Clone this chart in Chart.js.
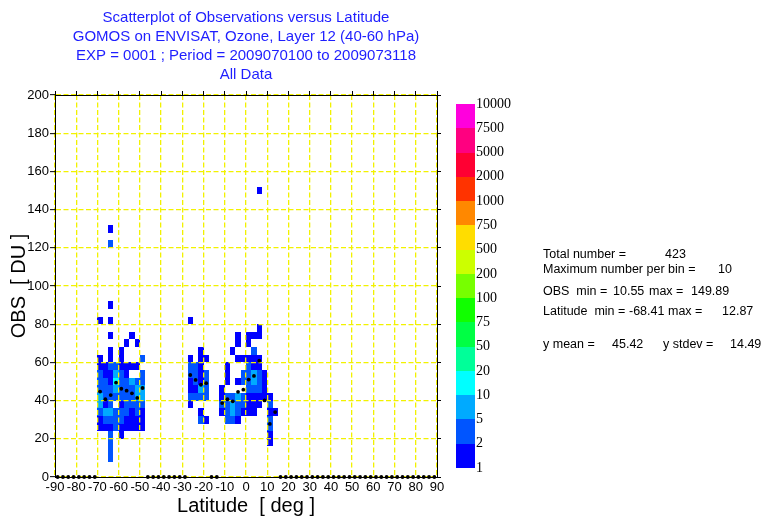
<!DOCTYPE html>
<html>
<head>
<meta charset="utf-8">
<script src="https://cdn.jsdelivr.net/npm/chart.js@4.4.1/dist/chart.umd.min.js"></script>
<style>
  html, body { margin: 0; padding: 0; background: #fff; }
</style>
</head>
<body>
<canvas id="scatter-chart" width="765" height="518"></canvas>
<script>
const titleLines = [
    'Scatterplot of Observations versus Latitude',
    'GOMOS on ENVISAT, Ozone, Layer 12 (40-60 hPa)',
    'EXP = 0001 ; Period = 2009070100 to 2009073118',
    'All Data',
];

// bins are 2.5 deg of latitude by 4 DU
const latStep = 2.5;
const obsStep = 4;

// [latitude bin start, OBS bin start, number of observations]
const binCells = [
    // southern mid latitudes
    [-65, 128, 1], [-65, 120, 2], [-65, 88, 1], [-70, 80, 1], [-65, 80, 1],
    [-65, 72, 1], [-55, 72, 1], [-57.5, 68, 1], [-52.5, 68, 1],
    [-65, 64, 1], [-60, 64, 1],
    [-70, 60, 1], [-65, 60, 1], [-60, 60, 1], [-50, 60, 2],
    [-70, 56, 1], [-67.5, 56, 1], [-65, 56, 2], [-62.5, 56, 3], [-60, 56, 1], [-57.5, 56, 1], [-55, 56, 1], [-52.5, 56, 1],
    [-70, 52, 2], [-67.5, 52, 1], [-65, 52, 1], [-62.5, 52, 6], [-60, 52, 2], [-57.5, 52, 1], [-50, 52, 2],
    [-70, 48, 2], [-67.5, 48, 2], [-65, 48, 1], [-62.5, 48, 10], [-60, 48, 3], [-57.5, 48, 2], [-55, 48, 5], [-52.5, 48, 2], [-50, 48, 2],
    [-70, 44, 3], [-67.5, 44, 2], [-65, 44, 3], [-62.5, 44, 6], [-60, 44, 3], [-57.5, 44, 2], [-55, 44, 2], [-52.5, 44, 5], [-50, 44, 5],
    [-70, 40, 5], [-67.5, 40, 3], [-65, 40, 2], [-62.5, 40, 3], [-60, 40, 2], [-57.5, 40, 3], [-55, 40, 2], [-52.5, 40, 5], [-50, 40, 5],
    [-70, 36, 5], [-67.5, 36, 1], [-65, 36, 2], [-60, 36, 1], [-57.5, 36, 2], [-55, 36, 2], [-52.5, 36, 2], [-50, 36, 2],
    [-70, 32, 2], [-67.5, 32, 5], [-65, 32, 5], [-62.5, 32, 2], [-60, 32, 2], [-57.5, 32, 2], [-55, 32, 1], [-52.5, 32, 2], [-50, 32, 1],
    [-70, 28, 1], [-67.5, 28, 2], [-65, 28, 2], [-62.5, 28, 2], [-60, 28, 2], [-57.5, 28, 1], [-55, 28, 1], [-52.5, 28, 1], [-50, 28, 1],
    [-70, 24, 1], [-67.5, 24, 1], [-65, 24, 1], [-62.5, 24, 2], [-60, 24, 1], [-57.5, 24, 1], [-55, 24, 1], [-52.5, 24, 1], [-50, 24, 1],
    [-65, 20, 2], [-60, 20, 1], [-65, 16, 2], [-65, 12, 2], [-65, 8, 2],
    // southern subtropics
    [-27.5, 80, 1], [-22.5, 64, 1],
    [-27.5, 60, 1], [-22.5, 60, 1], [-20, 60, 1],
    [-27.5, 56, 2], [-25, 56, 2], [-22.5, 56, 1],
    [-27.5, 52, 2], [-25, 52, 2], [-22.5, 52, 1], [-20, 52, 2],
    [-27.5, 48, 1], [-25, 48, 2], [-22.5, 48, 1], [-20, 48, 2],
    [-27.5, 44, 1], [-25, 44, 1], [-22.5, 44, 5], [-20, 44, 2],
    [-27.5, 40, 2], [-25, 40, 2], [-22.5, 40, 2], [-20, 40, 2],
    [-27.5, 36, 1], [-22.5, 32, 1], [-22.5, 28, 2], [-20, 28, 1],
    // tropics
    [5, 148, 1],
    [5, 76, 1], [-5, 72, 1], [0, 72, 1], [2.5, 72, 1], [5, 72, 1],
    [-5, 68, 1], [0, 68, 1], [-7.5, 64, 1], [2.5, 64, 2],
    [-5, 60, 1], [-2.5, 60, 1], [0, 60, 1], [2.5, 60, 1], [5, 60, 1],
    [-10, 56, 1], [0, 56, 2], [2.5, 56, 1], [5, 56, 1],
    [-10, 52, 1], [-2.5, 52, 2], [0, 52, 2], [2.5, 52, 5], [5, 52, 2], [7.5, 52, 1],
    [-10, 48, 1], [-5, 48, 1], [-2.5, 48, 2], [0, 48, 2], [2.5, 48, 6], [5, 48, 2], [7.5, 48, 1],
    [-12.5, 44, 1], [0, 44, 2], [2.5, 44, 2], [5, 44, 2], [7.5, 44, 1],
    [-12.5, 40, 1], [-10, 40, 2], [-7.5, 40, 2], [-5, 40, 6], [-2.5, 40, 2], [0, 40, 1], [2.5, 40, 1], [5, 40, 1], [7.5, 40, 1], [10, 40, 1],
    [-12.5, 36, 2], [-10, 36, 2], [-7.5, 36, 5], [-5, 36, 2], [-2.5, 36, 2], [0, 36, 1], [2.5, 36, 1], [5, 36, 1], [10, 36, 2],
    [-12.5, 32, 1], [-10, 32, 2], [-7.5, 32, 5], [-5, 32, 2], [-2.5, 32, 1], [0, 32, 1], [2.5, 32, 1], [10, 32, 1], [12.5, 32, 1],
    [-10, 28, 2], [-7.5, 28, 2], [-5, 28, 1], [10, 28, 2],
    [10, 24, 2], [10, 20, 1], [10, 16, 1],
];

// mean OBS of each 2.5 deg latitude band (0 where the band is empty)
const bandLat = [
    -88.75, -86.25, -83.75, -81.25, -78.75, -76.25, -73.75, -71.25,
    -68.75, -66.25, -63.75, -61.25, -58.75, -56.25, -53.75, -51.25, -48.75,
    -46.25, -43.75, -41.25, -38.75, -36.25, -33.75, -31.25, -28.75,
    -26.25, -23.75, -21.25, -18.75,
    -16.25, -13.75,
    -11.25, -8.75, -6.25, -3.75, -1.25, 1.25, 3.75, 6.25, 8.75, 11.25, 13.75,
    16.25, 18.75, 21.25, 23.75, 26.25, 28.75, 31.25, 33.75, 36.25, 38.75,
    41.25, 43.75, 46.25, 48.75, 51.25, 53.75, 56.25, 58.75, 61.25, 63.75,
    66.25, 68.75, 71.25, 73.75, 76.25, 78.75, 81.25, 83.75, 86.25, 88.75,
];
const bandMeanObs = [
    0, 0, 0, 0, 0, 0, 0, 0,
    44.7, 40.7, 42.9, 49.4, 46.2, 45.2, 43.8, 41.4, 46.6,
    0, 0, 0, 0, 0, 0, 0, 0,
    53.4, 50.8, 48.3, 49.1,
    0, 0,
    38.7, 40.7, 39.6, 44.6, 45.7, 51.0, 52.9, 60.9, 40.1, 27.8, 34.0,
    0, 0, 0, 0, 0, 0, 0, 0, 0, 0,
    0, 0, 0, 0, 0, 0, 0, 0, 0, 0,
    0, 0, 0, 0, 0, 0, 0, 0, 0, 0,
];

// colour scale: lower bound of each class and its colour
const colorLevels = [1, 2, 5, 10, 20, 50, 75, 100, 200, 500, 750, 1000, 2000, 5000, 7500, 10000];
const levelColors = [
    '#0000ff', '#0055ff', '#00aaff', '#00ffff', '#00ff99', '#00ff44', '#11ff00', '#77ff00',
    '#ccff00', '#ffdd00', '#ff8800', '#ff3300', '#ff0033', '#ff0080', '#ff00dd',
];

// summary block: [text, x]
const statLines = [
    [['Total number =', 543], ['423', 665]],
    [['Maximum number per bin =', 543], ['10', 718]],
    [['OBS  min =', 543], ['10.55', 613], ['max =', 649], ['149.89', 691]],
    [['Latitude  min =', 543], ['-68.41', 629], ['max =', 668], ['12.87', 722]],
    [['y mean =', 543], ['45.42', 612], ['y stdev =', 663], ['14.49', 730]],
];
const statRows = [255, 270, 292, 312, 345];

const SANS = "'Liberation Sans', Arial, sans-serif";
const SERIF = "'Liberation Serif', 'Times New Roman', serif";
const GRID_YELLOW = '#f2f200';

function colourFor(n) {
    let idx = 0;
    for (let i = 0; i < levelColors.length; i++) {
        if (n >= colorLevels[i]) idx = i;
    }
    return levelColors[idx];
}

// binned counts go underneath the grid
const cellLayer = {
    id: 'cellLayer',
    beforeDraw(chart) {
        const { ctx, chartArea, scales: { x, y } } = chart;
        ctx.save();
        ctx.beginPath();
        ctx.rect(chartArea.left, chartArea.top, chartArea.width, chartArea.height);
        ctx.clip();
        binCells.forEach(([lat, obs, n]) => {
            const x0 = Math.round(x.getPixelForValue(lat));
            const x1 = Math.round(x.getPixelForValue(lat + latStep));
            const y0 = Math.round(y.getPixelForValue(obs + obsStep));
            const y1 = Math.round(y.getPixelForValue(obs));
            ctx.fillStyle = colourFor(n);
            ctx.fillRect(x0, y0, x1 - x0, y1 - y0);
        });
        ctx.restore();
    },
};

// title, colour bar and summary numbers
const figureText = {
    id: 'figureText',
    afterDraw(chart) {
        const { ctx, chartArea } = chart;
        ctx.save();

        const cx = (chartArea.left + chartArea.right) / 2;
        ctx.fillStyle = '#1e1eff';
        ctx.font = '15px ' + SANS;
        ctx.textAlign = 'center';
        ctx.textBaseline = 'middle';
        titleLines.forEach((line, i) => ctx.fillText(line, cx, 17.5 + i * 19));

        const barLeft = 456, barWidth = 19, barTop = 104, barBottom = 468;
        const seg = (barBottom - barTop) / levelColors.length;
        levelColors.forEach((c, i) => {
            ctx.fillStyle = c;
            const yTop = barBottom - (i + 1) * seg;
            ctx.fillRect(barLeft, Math.round(yTop), barWidth, Math.round(yTop + seg) - Math.round(yTop));
        });
        ctx.fillStyle = '#000';
        ctx.font = '14px ' + SERIF;
        ctx.textAlign = 'left';
        colorLevels.forEach((lv, i) => {
            ctx.fillText(String(lv), barLeft + barWidth + 1, barBottom - i * seg);
        });

        ctx.font = '12.5px ' + SANS;
        statLines.forEach((parts, r) => {
            parts.forEach(([text, x]) => ctx.fillText(text, x, statRows[r]));
        });

        ctx.restore();
    },
};

new Chart(document.getElementById('scatter-chart'), {
    type: 'scatter',
    data: {
        datasets: [{
            label: 'band mean',
            data: bandLat.map((lat, i) => ({ x: lat, y: bandMeanObs[i] })),
            pointRadius: 1.9,
            pointBackgroundColor: '#000',
            pointBorderWidth: 0,
            clip: false,
        }],
    },
    options: {
        responsive: false,
        animation: false,
        devicePixelRatio: 1,
        layout: { padding: { left: 0, top: 91, right: 324, bottom: 0 } },
        plugins: {
            legend: { display: false },
            tooltip: { enabled: false },
        },
        scales: {
            x: {
                type: 'linear',
                position: 'bottom',
                min: -90,
                max: 90,
                ticks: {
                    stepSize: 10,
                    autoSkip: false,
                    maxRotation: 0,
                    color: '#000',
                    padding: 3,
                    font: { family: SANS, size: 13 },
                },
                grid: { color: GRID_YELLOW, lineWidth: 1.3, drawTicks: false },
                border: { color: '#000', width: 1, dash: [5, 2.5] },
                title: {
                    display: true,
                    text: 'Latitude  [ deg ]',
                    color: '#000',
                    font: { family: SANS, size: 20 },
                    padding: { top: 0, bottom: 0 },
                },
                afterFit: s => { s.height = 41; },
            },
            y: {
                type: 'linear',
                position: 'left',
                min: 0,
                max: 200,
                ticks: {
                    stepSize: 20,
                    color: '#000',
                    padding: 1,
                    font: { family: SANS, size: 13 },
                },
                grid: { color: GRID_YELLOW, lineWidth: 1.3, tickLength: 5, tickColor: '#000', tickWidth: 1 },
                border: { color: '#000', width: 1, dash: [5, 2.5] },
                title: {
                    display: true,
                    text: 'OBS  [ DU ]',
                    color: '#000',
                    font: { family: SANS, size: 20 },
                    padding: { top: 7, bottom: 0 },
                },
                afterFit: s => { s.width = 55; },
            },
            x2: {
                type: 'linear',
                position: 'top',
                min: -90,
                max: 90,
                ticks: { display: false, stepSize: 10 },
                grid: { drawOnChartArea: false, tickLength: 4, tickColor: '#000', tickWidth: 1 },
                border: { color: '#000', width: 1 },
                afterFit: s => { s.height = 4; },
            },
            y2: {
                type: 'linear',
                position: 'right',
                min: 0,
                max: 200,
                ticks: { display: false, stepSize: 20 },
                grid: { drawOnChartArea: false, tickLength: 4, tickColor: '#000', tickWidth: 1 },
                border: { color: '#000', width: 1 },
                afterFit: s => { s.width = 4; },
            },
        },
    },
    plugins: [cellLayer, figureText],
});
</script>
</body>
</html>
